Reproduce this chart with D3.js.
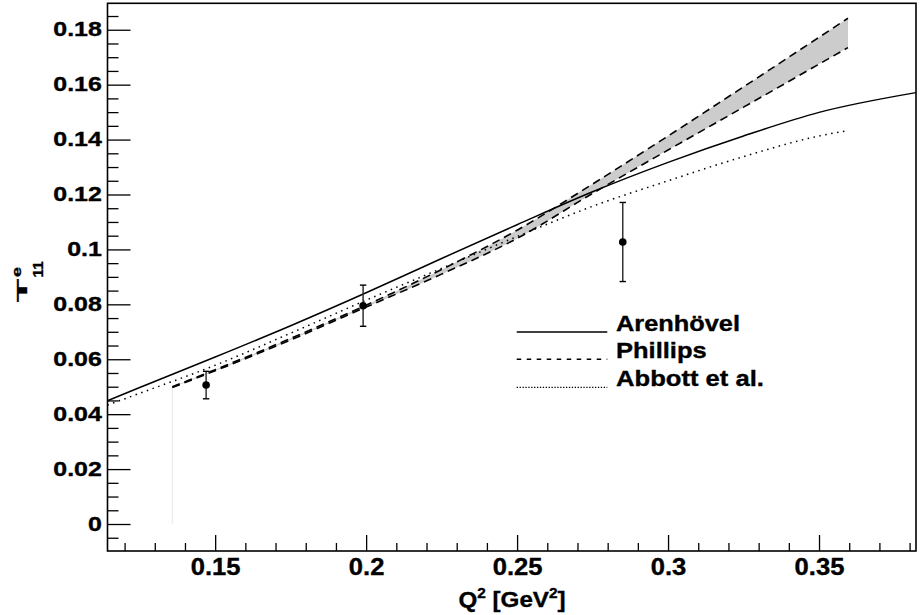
<!DOCTYPE html>
<html>
<head>
<meta charset="utf-8">
<script src="https://cdn.jsdelivr.net/npm/d3@7"></script>
<style>
  html, body { margin: 0; padding: 0; background: #fff; }
  svg { display: block; }
  text { font-family: "Liberation Sans", Arial, Helvetica, sans-serif; font-weight: bold; fill: #000; stroke: #000; stroke-width: 0.35px; }
</style>
</head>
<body>
<svg id="chart" width="920" height="615"></svg>
<script>
// Q^2 grid (GeV^2) and theory curves for T11^e
const arenhovelQ2 = [0.1143, 0.125, 0.15, 0.175, 0.2, 0.225, 0.25, 0.275, 0.3, 0.325, 0.35, 0.3821];
const arenhovelT  = [0.0449, 0.0497, 0.0608, 0.0722, 0.0842, 0.0967, 0.1090, 0.1210, 0.1317, 0.1413, 0.1499, 0.1571];

const abbottQ2 = [0.1143, 0.125, 0.15, 0.175, 0.2, 0.225, 0.25, 0.275, 0.3, 0.325, 0.35, 0.3586];
const abbottT  = [0.0433, 0.0476, 0.0578, 0.0695, 0.0815, 0.0931, 0.1047, 0.1157, 0.1250, 0.1338, 0.1413, 0.1431];

// Phillips: band between upper and lower edge
const phillipsQ2    = [0.1358, 0.15, 0.175, 0.2, 0.225, 0.25, 0.275, 0.3, 0.325, 0.3596];
const phillipsUpper = [0.0500, 0.0562, 0.0676, 0.0797, 0.0927, 0.1070, 0.1238, 0.1413, 0.1592, 0.1842];
const phillipsLower = [0.0497, 0.0558, 0.0670, 0.0790, 0.0910, 0.1040, 0.1204, 0.1362, 0.1518, 0.1735];

// Measurements with errors
const dataQ2  = [0.147, 0.199, 0.285];
const dataT   = [0.0506, 0.0795, 0.1027];
const dataErr = [0.0050, 0.0075, 0.0144];

const xTicks = [0.15, 0.2, 0.25, 0.3, 0.35];
const yTicks = [0, 0.02, 0.04, 0.06, 0.08, 0.1, 0.12, 0.14, 0.16, 0.18];
const legendLabels = ["Arenhövel", "Phillips", "Abbott et al."];

const svg = d3.select("#chart");
const frame = { left: 107.5, right: 916, top: 3.3, bottom: 551 };

const x = d3.scaleLinear().domain([0.11434, 0.38212]).range([frame.left, frame.right]);
const y = d3.scaleLinear().domain([-0.00983, 0.18963]).range([frame.bottom, frame.top]);

const zip = (xs, ys) => xs.map((v, i) => [v, ys[i]]);
const line = d3.line().x(d => x(d[0])).y(d => y(d[1])).curve(d3.curveMonotoneX);

const plot = svg.append("g");

// band of the Phillips calculation
const band = phillipsQ2.map((q, i) => ({ q, lo: phillipsLower[i], hi: phillipsUpper[i] }));
plot.append("path")
  .datum(band)
  .attr("d", d3.area().x(d => x(d.q)).y0(d => y(d.lo)).y1(d => y(d.hi)).curve(d3.curveMonotoneX))
  .attr("fill", "#cccccc");

// faint left edge of the band's fill polygon
plot.append("line")
  .attr("x1", x(phillipsQ2[0])).attr("x2", x(phillipsQ2[0]))
  .attr("y1", y(0)).attr("y2", y(phillipsLower[0]))
  .attr("stroke", "#e8e8e8").attr("stroke-width", 1);

plot.append("path").datum(zip(phillipsQ2, phillipsUpper)).attr("d", line)
  .attr("fill", "none").attr("stroke", "#000").attr("stroke-width", 1.6).attr("stroke-dasharray", "8,5");
plot.append("path").datum(zip(phillipsQ2, phillipsLower)).attr("d", line)
  .attr("fill", "none").attr("stroke", "#000").attr("stroke-width", 1.6).attr("stroke-dasharray", "8,5");

plot.append("path").datum(zip(abbottQ2, abbottT)).attr("d", line)
  .attr("fill", "none").attr("stroke", "#000").attr("stroke-width", 1.5).attr("stroke-dasharray", "1.5,4.5");

plot.append("path").datum(zip(arenhovelQ2, arenhovelT)).attr("d", line)
  .attr("fill", "none").attr("stroke", "#000").attr("stroke-width", 1.5);

// data points with error bars
const pts = plot.append("g").selectAll("g").data(dataQ2.map((q, i) => ({ q, t: dataT[i], e: dataErr[i] })))
  .join("g");
pts.append("line")
  .attr("x1", d => x(d.q)).attr("x2", d => x(d.q))
  .attr("y1", d => y(d.t - d.e)).attr("y2", d => y(d.t + d.e))
  .attr("stroke", "#333").attr("stroke-width", 1.5);
pts.selectAll(".cap").data(d => [{ q: d.q, v: d.t - d.e }, { q: d.q, v: d.t + d.e }]).join("line")
  .attr("x1", d => x(d.q) - 3.2).attr("x2", d => x(d.q) + 3.2)
  .attr("y1", d => y(d.v)).attr("y2", d => y(d.v))
  .attr("stroke", "#000").attr("stroke-width", 1.4);
pts.append("circle")
  .attr("cx", d => x(d.q)).attr("cy", d => y(d.t)).attr("r", 3.8).attr("fill", "#000");

// axes, ticks pointing into the frame
const fmt = d => String(+d.toFixed(3));
const xMinor = d3.range(12, 39).map(v => v / 100).filter(v => !xTicks.some(t => Math.abs(t - v) < 1e-9));
const yMinor = d3.range(-1, 38).map(v => v / 200).filter(v => !yTicks.some(t => Math.abs(t - v) < 1e-9));

const xAxis = svg.append("g").attr("transform", `translate(0,${frame.bottom})`)
  .call(d3.axisBottom(x).tickValues(xTicks).tickSize(-16).tickPadding(7).tickFormat(fmt));
svg.append("g").attr("transform", `translate(0,${frame.bottom})`)
  .call(d3.axisBottom(x).tickValues(xMinor).tickSize(-8).tickFormat(""));
const yAxis = svg.append("g").attr("transform", `translate(${frame.left},0)`)
  .call(d3.axisLeft(y).tickValues(yTicks).tickSize(-23).tickPadding(4.4).tickFormat(fmt));
svg.append("g").attr("transform", `translate(${frame.left},0)`)
  .call(d3.axisLeft(y).tickValues(yMinor).tickSize(-11).tickFormat(""));

svg.selectAll(".domain").remove();
svg.selectAll(".tick line").attr("stroke", "#000").attr("stroke-width", 1.3);
[xAxis, yAxis].forEach(g => g.selectAll("text")
  .attr("font-family", "Liberation Sans").attr("font-weight", "bold")
  .attr("fill", "#000").attr("stroke", "#000").attr("stroke-width", 0.35));
xAxis.selectAll("text").attr("font-size", 23.5).attr("transform", "scale(1.09,1)");
yAxis.selectAll("text").attr("font-size", 19.5).attr("transform", "scale(1.28,1)");

// frame
svg.append("rect").attr("x", frame.left).attr("y", frame.top)
  .attr("width", frame.right - frame.left).attr("height", frame.bottom - frame.top)
  .attr("fill", "none").attr("stroke", "#000").attr("stroke-width", 1.6);

// axis titles
const xt = svg.append("text").attr("transform", `translate(512,607) scale(1.1,1)`)
  .attr("text-anchor", "middle").attr("font-size", 22);
xt.append("tspan").text("Q");
xt.append("tspan").attr("dy", -9).attr("font-size", 14).text("2");
xt.append("tspan").attr("dy", 9).text(" [GeV");
xt.append("tspan").attr("dy", -9).attr("font-size", 14).text("2");
xt.append("tspan").attr("dy", 9).text("]");

const yt = svg.append("g").attr("transform", "translate(27,302) rotate(-90)");
yt.append("text").attr("transform", "scale(2.45,1)").attr("font-size", 15.4).text("T");
yt.append("text").attr("transform", "translate(25,-6) scale(1.33,1)").attr("font-size", 13.5).text("e");
yt.append("text").attr("transform", "translate(24.5,16)").attr("font-size", 15.4).text("11");

// legend
const legY = [332, 359.3, 387.3];
const legDash = [null, "4.5,5.5", "1.3,1.6"];
const legWidth = [1.4, 1.5, 1.2];
const legTextW = [124, 90.7, 148];
const leg = svg.append("g");
legendLabels.forEach((lab, i) => {
  leg.append("line").attr("x1", 516.7).attr("x2", 607.3).attr("y1", legY[i]).attr("y2", legY[i])
    .attr("stroke", "#000").attr("stroke-width", legWidth[i])
    .attr("stroke-dasharray", legDash[i]);
  leg.append("text").attr("x", 616).attr("y", legY[i] - 1.2).attr("font-size", 22)
    .attr("textLength", legTextW[i]).attr("lengthAdjust", "spacingAndGlyphs").text(lab);
});
</script>
</body>
</html>
